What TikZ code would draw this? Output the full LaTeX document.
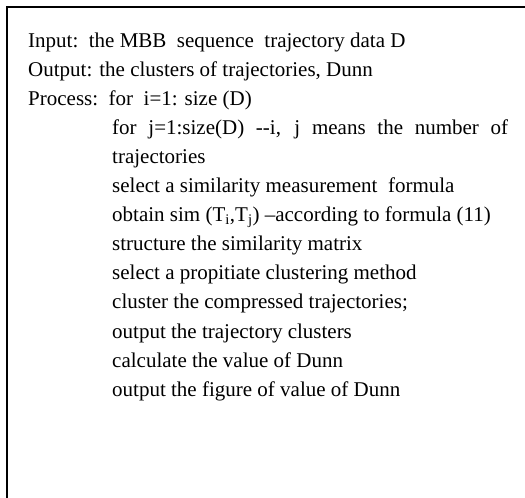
\documentclass[tikz,border=0pt]{standalone}
\usepackage{fontspec}
\setmainfont{Liberation Serif}
\begin{document}
\begin{tikzpicture}[x=1pt,y=1pt,
  txt/.style={anchor=base west,inner sep=0pt,font=\fontsize{21}{25}\selectfont},
  frame/.style={line width=1.5pt,black}]
\useasboundingbox (0,0) rectangle (525,-498);
\coordinate (tl) at (7,-7);
\coordinate (tr) at (525,-7);
\coordinate (bl) at (7,-498);
\draw[frame] (bl) -- (tl) -- (tr);
\node[txt] (l0) at (28,-47) {Input:\ \ the MBB\ \ sequence\ \ trajectory data D};
\node[txt] (l1) at (28,-76.1) {Output: the clusters of trajectories, Dunn};
\node[txt] (l2) at (28,-105.2) {Process:\ \ for\ \ i=1: size (D)};
\node[txt] (l3) at (112,-134.3) {\makebox[396pt][s]{for j=1:size(D) -{}-i, j means the number of}};
\node[txt] (l4) at (112,-163.4) {trajectories};
\node[txt] (l5) at (112,-192.5) {select a similarity measurement\ \ formula};
\node[txt] (l6) at (112,-221.6) {obtain sim (T\textsubscript{i},T\textsubscript{j}) –according to formula (11)};
\node[txt] (l7) at (112,-250.7) {structure the similarity matrix};
\node[txt] (l8) at (112,-279.8) {select a propitiate clustering method};
\node[txt] (l9) at (112,-308.9) {cluster the compressed trajectories;};
\node[txt] (l10) at (112,-338.0) {output the trajectory clusters};
\node[txt] (l11) at (112,-367.1) {calculate the value of Dunn};
\node[txt] (l12) at (112,-396.2) {output the figure of value of Dunn};
\end{tikzpicture}
\end{document}
